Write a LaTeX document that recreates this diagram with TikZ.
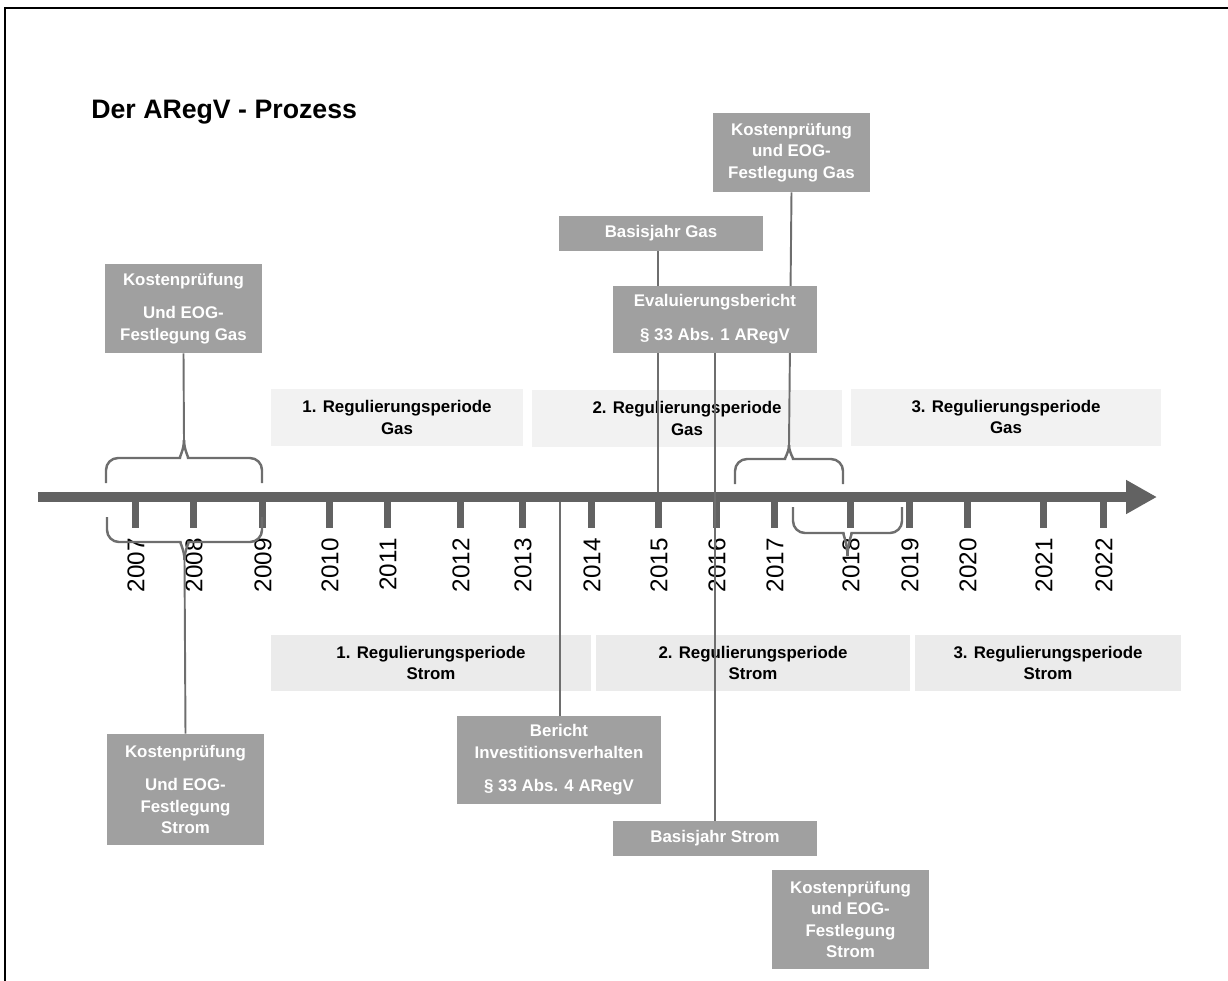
\documentclass[tikz,border=0pt]{standalone}
\usepackage{fontspec}
\setmainfont{Liberation Sans}
\usetikzlibrary{arrows.meta}
\pgfdeclarelayer{vorne}
\pgfsetlayers{main,vorne}
\definecolor{achsgrau}{HTML}{626262}
\definecolor{boxgrau}{HTML}{A0A0A0}
\definecolor{gasgrau}{HTML}{F2F2F2}
\definecolor{stromgrau}{HTML}{EBEBEB}
\definecolor{liniengrau}{HTML}{6E6E6E}

% Klammer: x links, x rechts, y Enden, y Steg, y Spitze, Name der Spitze
\newcommand{\zklammer}[6]{%
	\pgfmathsetmacro{\km}{(#1+#2)/2}%
	\pgfmathsetmacro{\kc}{#4+0.45*(#5-#4)}%
	\draw[kl] (#1,#3) [rounded corners=2.4mm] -- (#1,#4) -- (\km-16,#4) [sharp corners] .. controls (\km-5,#4) and (\km,\kc) .. (\km,#5) coordinate (#6);
	\draw[kl] (#2,#3) [rounded corners=2.4mm] -- (#2,#4) -- (\km+16,#4) [sharp corners] .. controls (\km+5,#4) and (\km,\kc) .. (\km,#5);
}

\begin{document}
\begin{tikzpicture}[x=0.02cm, y=-0.02cm,
	dk/.style={fill=boxgrau, text=white, font=\fontsize{9.6}{12.2}\selectfont\bfseries, align=center, inner sep=0pt},
	pg/.style={fill=gasgrau, font=\fontsize{9.6}{12.2}\selectfont\bfseries, align=center, inner sep=0pt, minimum height=1.14cm},
	ps/.style={fill=stromgrau, font=\fontsize{9.6}{12.2}\selectfont\bfseries, align=center, inner sep=0pt, minimum height=1.12cm},
	ln/.style={draw=liniengrau, line width=1.1pt},
	kl/.style={draw=liniengrau, line width=1.4pt},
	jahr/.style={rotate=90, anchor=east, inner sep=0pt, font=\fontsize{13.8}{16}\selectfont}]
		\useasboundingbox (0,0) rectangle (1228,981);
		\draw[line width=1.3pt] (5,981) -- (5,8) -- (1228,8);
		\node[anchor=west, inner sep=0pt, font=\fontsize{15.2}{17}\selectfont\bfseries] (titel) at (91,112) {Der ARegV - Prozess};

		% Zeitachse
		\draw[achsgrau, line width=0.2cm, -{Triangle[length=6.2mm, width=6.4mm]}] (38,497) -- (1157,497);
		\foreach \x/\j in {135/2007, 193/2008, 262/2009, 329/2010, 387/2011, 460/2012, 522/2013, 591/2014, 658/2015, 716/2016, 774/2017, 850/2018, 909/2019, 967/2020, 1043/2021, 1103/2022}{
			\draw[achsgrau, line width=0.14cm] (\x,497) -- (\x,528);
			\coordinate (t\j) at (\x,492);
			\node[jahr] (j\j) at (\x+1,538) {\j};
		}
		\coordinate (aB) at (560,502);

		% Regulierungsperioden
		\node[pg, minimum width=5.04cm] (gas1) at (397,417.5) {1. Regulierungsperiode\\Gas};
		\node[pg, minimum width=6.2cm] (gas2) at (687,418.5) {2. Regulierungsperiode\\Gas};
		\node[pg, minimum width=6.2cm] (gas3) at (1006,417) {3. Regulierungsperiode\\Gas};
		\node[ps, minimum width=6.4cm] (strom1) at (431,663) {1. Regulierungsperiode\\Strom};
		\node[ps, minimum width=6.28cm] (strom2) at (753,663) {2. Regulierungsperiode\\Strom};
		\node[ps, minimum width=5.32cm] (strom3) at (1048,663) {3. Regulierungsperiode\\Strom};

		\begin{pgfonlayer}{vorne}
		\node[dk, minimum width=3.14cm, minimum height=1.78cm] (KGasA) at (183.5,308.5) {Kostenprüfung\\[7pt]Und EOG-\\Festlegung Gas};
		\node[dk, minimum width=3.14cm, minimum height=1.58cm] (KGasB) at (791.5,152.5) {Kostenprüfung\\und EOG-\\Festlegung Gas};
		\node[dk, minimum width=4.08cm, minimum height=0.7cm] (BasisGas) at (661,233.5) {Basisjahr Gas};
		\node[dk, minimum width=4.08cm, minimum height=1.34cm] (Eval) at (715,319.5) {Evaluierungsbericht\\[7pt]§ 33 Abs. 1 ARegV};
		\node[dk, minimum width=3.14cm, minimum height=2.22cm] (KStromA) at (185.5,789.5) {Kostenprüfung\\[7pt]Und EOG-\\Festlegung\\Strom};
		\node[dk, minimum width=4.08cm, minimum height=1.76cm] (Bericht) at (559,760) {Bericht\\Investitionsverhalten\\[7pt]§ 33 Abs. 4 ARegV};
		\node[dk, minimum width=4.08cm, minimum height=0.7cm] (BasisStrom) at (715,838.5) {Basisjahr Strom};
		\node[dk, minimum width=3.14cm, minimum height=1.98cm] (KStromB) at (850.5,919.5) {Kostenprüfung\\und EOG-\\Festlegung\\Strom};
		\end{pgfonlayer}

		% Klammern
		\zklammer{106}{262}{483}{458}{440}{kA}
		\zklammer{107}{262}{517}{542}{560}{kB}
		\zklammer{735}{843}{484}{459}{445}{kC}
		\zklammer{793}{902}{507}{533}{556}{kD}

		% Verbindungen
		\draw[ln] (KGasA.south) -- (kA);
		\draw[ln] (kB) -- (KStromA.north);
		\draw[ln] (KGasB.south) -- (kC);
		\draw[ln] (BasisGas.south -| t2015) -- (t2015);
		\draw[ln] (Eval) -- (BasisStrom);
		\draw[ln] (Bericht.north -| aB) -- (aB);
	\end{tikzpicture}
\end{document}
